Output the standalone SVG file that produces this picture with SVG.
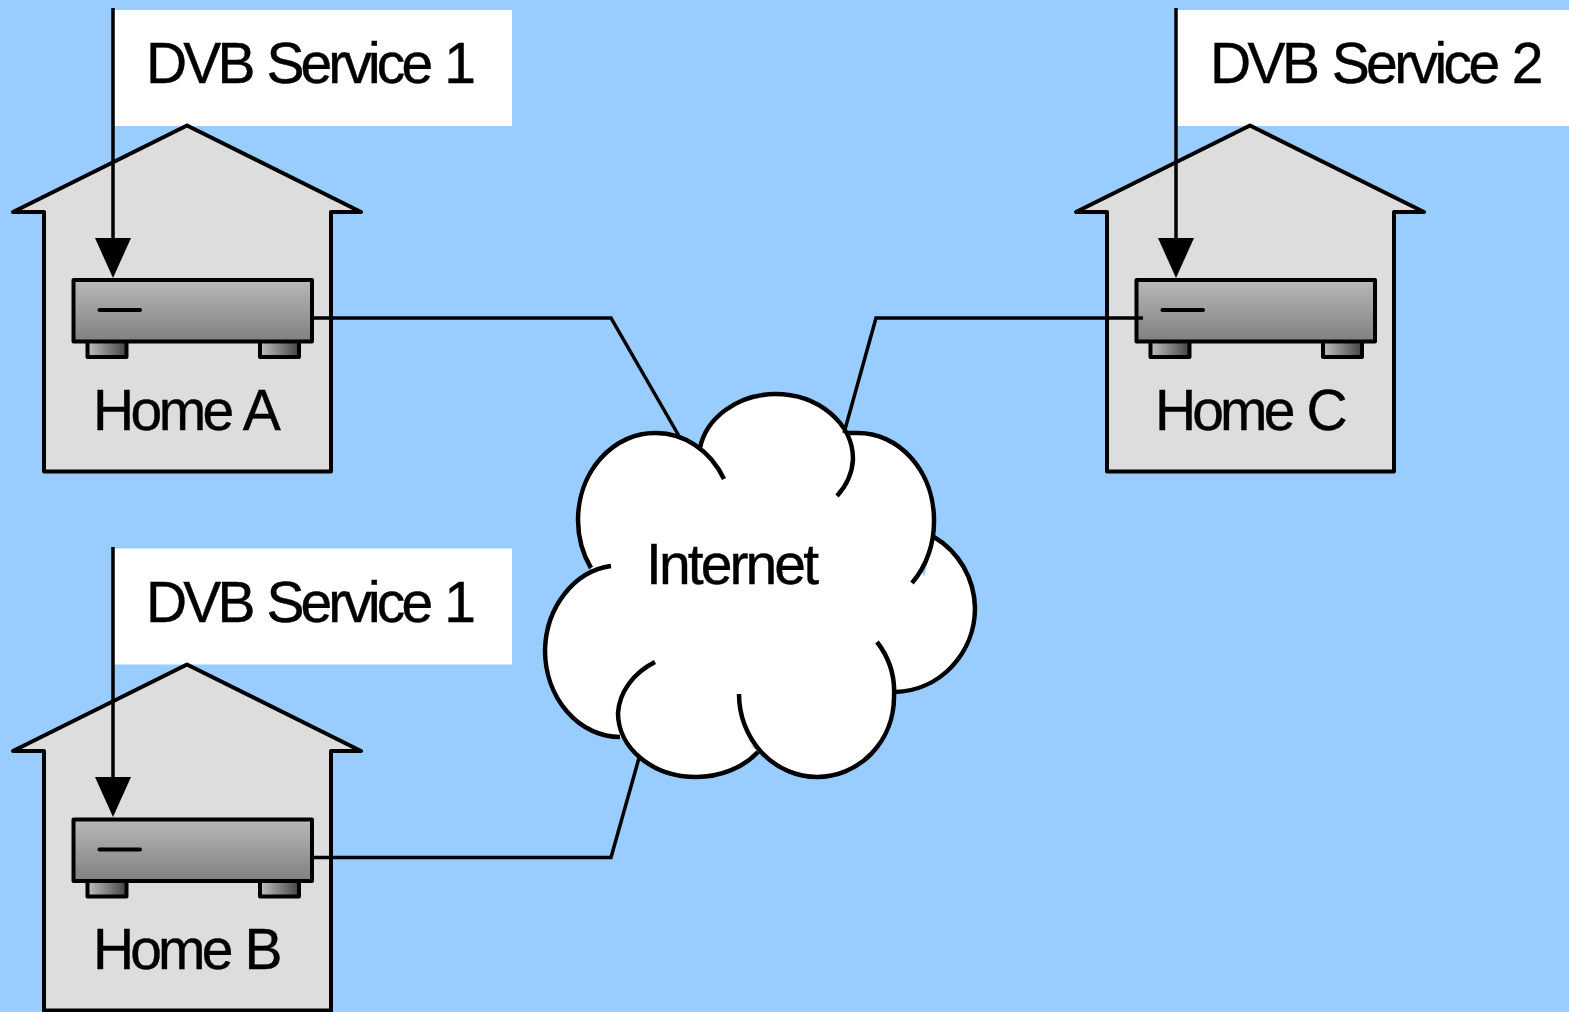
<svg xmlns="http://www.w3.org/2000/svg" xmlns:xlink="http://www.w3.org/1999/xlink" width="1569" height="1012" viewBox="0 0 1569 1012">
<style>
.lbl{font-family:"Liberation Sans",Arial,sans-serif;font-size:57px;letter-spacing:-3.6px;word-spacing:3px;fill:#000;stroke:#000;stroke-width:.4px}
.s1{letter-spacing:-3.9px}
.house{fill:#ddd;stroke:#000;stroke-width:4;stroke-linejoin:round;stroke-linecap:round}
.body{fill:url(#gb);stroke:#000;stroke-width:4;stroke-linejoin:round}
.foot{fill:url(#gf);stroke:#000;stroke-width:4;stroke-linejoin:round}
.led{stroke:#000;stroke-width:4;stroke-linecap:round;fill:none}
.wire{fill:none;stroke:#000;stroke-width:3.5;stroke-linejoin:miter}
.feed{fill:none;stroke:#000;stroke-width:3.5;marker-end:url(#ah)}
.cloudfill{fill:#fff;stroke:none}
.cloudline{fill:#fff;stroke:#000;stroke-width:4.5}
</style>
<defs>
<linearGradient id="gb" x1="0" y1="0" x2="0" y2="1"><stop offset="0" stop-color="#b8b8b8"/><stop offset="1" stop-color="#808080"/></linearGradient>
<linearGradient id="gf" x1="0" y1="0" x2="1" y2="0"><stop offset="0" stop-color="#c0c0c0"/><stop offset="1" stop-color="#444"/></linearGradient>
<marker id="ah" markerUnits="userSpaceOnUse" markerWidth="36" markerHeight="40" viewBox="0 0 36 40" refX="18" refY="24" orient="0"><path d="M0,0L36,0L18,40Z" fill="#000"/></marker>
<g id="stb">
<rect class="foot" x="87.5" y="340" width="39" height="17"/>
<rect class="foot" x="260" y="340" width="39" height="17"/>
<rect class="body" x="73.5" y="280" width="238.5" height="61.5"/>
<line class="led" x1="99.5" y1="310" x2="140" y2="310"/>
</g>
<path id="hs" class="house" d="M187,125.500L361,212H331V471.500H44V212H13Z"/>
</defs>
<rect width="1569" height="1012" fill="#99ccff"/>
<g id="service-a"><rect x="113" y="10" width="399" height="116" fill="#fff"/><text class="lbl s1" x="146" y="83">DVB Service 1</text></g>
<g id="service-c"><rect x="1176" y="10" width="393" height="116" fill="#fff"/><text class="lbl" x="1210" y="83">DVB Service 2</text></g>
<g id="service-b"><rect x="113" y="548.500" width="399" height="116" fill="#fff"/><text class="lbl s1" x="146" y="622">DVB Service 1</text></g>
<g id="home-a"><use xlink:href="#hs" href="#hs"/><use xlink:href="#stb" href="#stb"/><text class="lbl" x="93" y="430">Home A</text></g>
<g id="home-c"><use xlink:href="#hs" href="#hs" x="1063"/><use xlink:href="#stb" href="#stb" x="1063"/><text class="lbl s1" x="1155" y="430">Home C</text></g>
<g id="home-b"><use xlink:href="#hs" href="#hs" y="539"/><use xlink:href="#stb" href="#stb" y="539.500"/><text class="lbl s1" x="93" y="969">Home B</text></g>
<g id="internet">
<path class="cloudfill" d="M655,520L700,448L775,420L847,433L900,520L934,600L895,690L817,740L700,750L620,737L600,650L591,568Z"/>
<path class="cloudline" d="M591,568A77,87 0 0 1 578,520A77,87 0 0 1 655,433A77,87 0 0 1 724,479M700,448A78,65 0 0 1 775,394A78,65 0 0 1 853,459A78,65 0 0 1 837,496M847,433L858,433A76,87 0 0 1 934,520A76,87 0 0 1 912,583M934,537A82,84 0 0 1 975,608A82,84 0 0 1 895,692M877,642A78,80 0 0 1 894,697A77,80 0 0 1 817,777A78,83 0 0 1 739,694M758,752A78,64 0 0 1 696,777A78,64 0 0 1 618,713A78,64 0 0 1 655,662M620,737A75,87 0 0 1 545,650A75,87 0 0 1 611,566"/>
<text class="lbl" x="646" y="584" style="letter-spacing:-2.9px">Internet</text>
</g>
<g id="connectors">
<path class="wire" d="M313,318H611L679,436"/>
<path class="wire" d="M1143,318H876L844,433"/>
<path class="wire" d="M313,857.500H611L639,758"/>
<line class="feed" x1="113" y1="8" x2="113" y2="262"/>
<line class="feed" x1="1176" y1="8" x2="1176" y2="262"/>
<line class="feed" x1="113" y1="547" x2="113" y2="801"/>
</g>
</svg>
